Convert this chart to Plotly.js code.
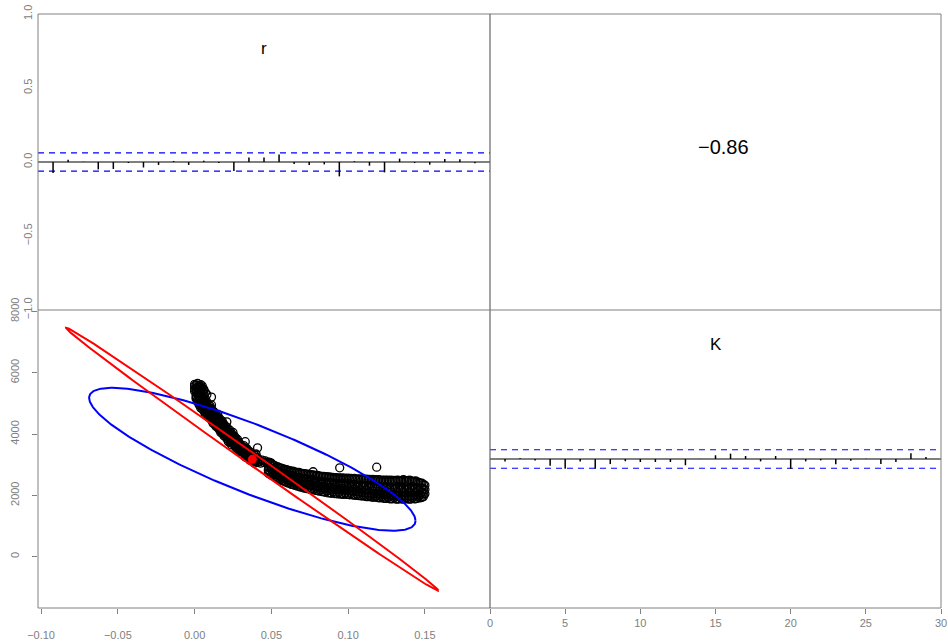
<!DOCTYPE html>
<html>
<head>
<meta charset="utf-8">
<script src="https://cdn.plot.ly/plotly-3.0.1.min.js"></script>
<style>
html,body{margin:0;padding:0;background:#ffffff;}
#chart{width:948px;height:643px;}
</style>
</head>
<body>
<div id="chart"></div>
<script>
// ---------------- data ----------------
const varNames = ["r", "K"];
const corrLabel = "\u22120.86";

const lags = [1,2,3,4,5,6,7,8,9,10,11,12,13,14,15,16,17,18,19,20,21,22,23,24,25,26,27,28,29];
const lagRange = [0, 30];
const acfR = [-0.074,0.016,0.002,-0.050,-0.047,-0.007,-0.037,-0.020,0.007,-0.020,0.009,-0.007,-0.061,0.030,
              0.030,0.050,-0.014,-0.020,-0.016,-0.097,0.005,-0.025,-0.070,0.023,-0.007,-0.018,0.020,0.018,-0.009];
const acfK = [-0.016,0.005,-0.010,-0.045,-0.065,-0.016,-0.065,-0.034,-0.015,-0.020,-0.020,-0.020,-0.042,0.001,
              0.025,0.036,0.020,-0.016,0.020,-0.067,-0.016,-0.009,-0.036,-0.011,0.001,-0.034,-0.020,0.038,0.013];
const ciBound = 0.062;

// posterior samples (r, K)
const blobR = [0.000,0.002,0.004,0.005,0.000,0.002,0.003,0.005,0.006,0.000,0.001,0.003,0.006,0.001,0.002,0.004,0.007,0.001,0.003,0.005,0.008,0.011,
               0.001,0.003,0.004,0.001,0.004,0.002,0.005,0.003,0.000,0.002,0.005,0.006,0.004,0.001];
const blobK = [5620,5650,5610,5570,5570,5540,5510,5490,5460,5470,5430,5400,5420,5360,5320,5300,5350,5260,5230,5260,5290,5205,
               5600,5580,5540,5500,5450,5470,5380,5350,5400,5280,5200,5310,5200,5200];

const steepK = [5150,5125,5100,5075,5050,5025,5000,4975,4950,4925,4900,4875,4850,4825,4800,4775,4750,4725,4700,4675,
                4650,4625,4600,4575,4550,4525,4500,4475,4450,4425,4400,4375,4350,4325,4300,4275,4250,4225,4200,4175,
                4150,4125,4100,4075,4050,4025,4000,3975,3950,3925,3900,3875,3850,3825,3800,3775,3750,3725,3700,3675,
                3650,3625,3600,3575,3550,3525,3500,3475,3450,3425,3400,3375,3350,3325,3300,3275,3250,3225,3200,3175,
                3150,3125,3100,3075,3050];
const steepRByRow = [
  [0.001,0.004,0.007],[0.002,0.0055],[0.003,0.006],[0.0035,0.0065],[0.002,0.005,0.008],
  [0.003,0.006],[0.004,0.007],[0.0045,0.0075],[0.003,0.006,0.009,0.011],[0.004,0.007,0.010],
  [0.005,0.008],[0.0055,0.0085],[0.004,0.007,0.010],[0.005,0.008,0.011],[0.0065,0.0095],
  [0.007,0.010],[0.006,0.009,0.012],[0.0065,0.0095,0.0125],[0.008,0.011],[0.0085,0.0115],
  [0.007,0.010,0.013,0.015],[0.008,0.011,0.014],[0.010,0.013],[0.0105,0.0135],[0.009,0.012,0.015],
  [0.010,0.013,0.016],[0.0115,0.0145],[0.0125,0.0155],[0.011,0.014,0.017],[0.012,0.015,0.018],
  [0.0135,0.0165,0.021],[0.0135,0.0165],[0.012,0.015,0.018],[0.013,0.016,0.019],[0.015,0.018],
  [0.0155,0.0185],[0.014,0.017,0.020],[0.015,0.018,0.021],[0.0165,0.0195],[0.0175,0.0205],
  [0.016,0.019,0.022],[0.017,0.020,0.023],[0.018,0.021],[0.0185,0.0215],[0.017,0.020,0.023,0.025],
  [0.018,0.021,0.024],[0.0195,0.0225],[0.0205,0.0235],[0.019,0.022,0.025],[0.020,0.023,0.026],
  [0.0215,0.0245],[0.0225,0.0255],[0.021,0.024,0.027],[0.022,0.025,0.028],[0.023,0.026],
  [0.0235,0.0265],[0.022,0.025,0.028,0.033],[0.023,0.026,0.029],[0.025,0.028],[0.0255,0.0285],
  [0.024,0.027,0.030],[0.026,0.029,0.032],[0.027,0.030],[0.0285,0.0315],[0.027,0.030,0.033,0.041],
  [0.028,0.031,0.034],[0.0295,0.0325],[0.0305,0.0335],[0.029,0.032,0.035],[0.030,0.033,0.036],
  [0.0315,0.0345],[0.0325,0.0355],[0.031,0.034,0.037,0.040],[0.033,0.036,0.039],[0.034,0.037],
  [0.0345,0.0375],[0.033,0.036,0.040],[0.035,0.038,0.041],[0.0365,0.0395],[0.0375,0.0415],
  [0.036,0.040,0.044],[0.038,0.042,0.046],[0.0395,0.0425],[0.041,0.045,0.049],[0.039,0.043,0.047,0.050]
];

const flatR = [0.048,0.049,0.050,0.051,0.052,0.053,0.054,0.055,0.056,0.057,0.058,0.059,0.060,0.061,0.062,0.063,0.064,0.065,
               0.066,0.067,0.068,0.069,0.070,0.071,0.072,0.073,0.074,0.075,0.076,0.077,0.0772,0.078,0.079,0.080,0.081,0.082,
               0.083,0.084,0.085,0.086,0.087,0.088,0.089,0.090,0.091,0.092,0.093,0.094,0.0945,0.095,0.096,0.097,0.098,0.099,
               0.100,0.101,0.102,0.103,0.104,0.105,0.106,0.107,0.108,0.109,0.110,0.111,0.112,0.113,0.114,0.115,0.116,0.117,
               0.118,0.1186,0.119,0.120,0.121,0.122,0.123,0.124,0.125,0.126,0.127,0.128,0.129,0.130,0.131,0.132,0.133,0.134,
               0.135,0.136,0.137,0.138,0.139,0.140,0.141,0.142,0.143,0.144,0.145,0.146,0.147,0.148,0.149,0.150];
const flatKByCol = [
  [3080,2950,2830,2720],[3020,2900,2780,2690],[3040,2840,2660],[2990,2870,2740,2650],[2980,2850,2730,2610],
  [2920,2800,2680,2590],[2940,2750,2560],[2900,2770,2640,2540],[2900,2760,2640,2510],[2870,2720,2590,2480],
  [2860,2670,2480],[2830,2700,2550,2440],[2840,2690,2570,2430],[2800,2660,2520,2400],[2810,2600,2410],
  [2780,2630,2480,2360],[2790,2640,2500,2360],[2760,2600,2440,2330],[2760,2550,2350],[2740,2580,2420,2300],
  [2750,2590,2450,2300],[2720,2560,2390,2270],[2720,2500,2300],[2700,2540,2370,2240],[2710,2550,2410,2250],
  [2680,2520,2350,2220],[2690,2460,2250],[2670,2500,2330,2200],[2680,2510,2370,2200],[2660,2480,2310,2180],
  [2770],[2660,2420,2200],[2640,2460,2290,2160],[2650,2470,2330,2160],[2630,2450,2270,2140],
  [2630,2390,2170],[2610,2430,2250,2120],[2620,2440,2300,2120],[2600,2420,2240,2100],[2610,2360,2140],
  [2590,2400,2220,2080],[2600,2420,2270,2090],[2580,2390,2210,2070],[2590,2340,2110],[2570,2380,2200,2060],
  [2580,2400,2250,2070],[2560,2370,2190,2050],[2570,2320,2090],[2900],[2550,2360,2180,2040],
  [2570,2390,2230,2050],[2550,2350,2170,2030],[2560,2310,2070],[2540,2340,2160,2030],[2560,2380,2220,2040],
  [2540,2330,2150,2020],[2550,2290,2060],[2530,2320,2140,2010],[2550,2360,2200,2020],[2530,2310,2130,2000],
  [2540,2280,2030],[2520,2300,2120,1990],[2540,2340,2180,1990],[2520,2290,2100,1980],[2530,2260,2000],
  [2510,2280,2090,1970],[2530,2320,2160,1960],[2510,2270,2080,1960],[2520,2240,1980],[2500,2260,2070,1950],
  [2520,2300,2140,1940],[2500,2250,2060,1940],[2510,2220,1960],[2920],[2500,2240,2050,1930],
  [2510,2290,2120,1920],[2490,2230,2040,1920],[2500,2200,1950],[2490,2230,2030,1910],[2500,2280,2110,1900],
  [2490,2220,2020,1900],[2500,2190,1930],[2480,2220,2010,1890],[2500,2270,2100,1890],[2480,2210,2000,1890],
  [2490,2190,1920],[2480,2210,2000,1880],[2500,2270,2090,1880],[2490,2200,1990,1880],[2480,2180,1920],
  [2490,2200,1990,1880],[2510,2260,2090,1880],[2490,2200,1990,1880],[2480,2180,1910],[2480,2200,1990,1880],
  [2500,2260,2080,1880],[2470,2200,1990,1880],[2460,2170,1920],[2460,2200,2000,1890],[2470,2250,2090,1890],
  [2440,2200,2010,1900],[2420,2180,1950],[2400,2210,2030,1920],[2400,2240,2100,1930],[2350,2200,2060,1960],
  [2330,2190,2050]
];

// posterior mean and the two ellipses (half-ranges and correlation)
const meanRK = [0.0376, 3176];
const ellipseHalfR = [0.1063, 0.1213];   // blue, red
const ellipseHalfK = [2331, 4291];
const ellipseRho   = [-0.86, -0.9986];

// axis ticks
const accTicks = [-1, -0.5, 0, 0.5, 1];
const accTickText = ["\u22121.0", "\u22120.5", "0.0", "0.5", "1.0"];
const rTicks = [-0.10, -0.05, 0.00, 0.05, 0.10, 0.15];
const rTickText = ["\u22120.10", "\u22120.05", "0.00", "0.05", "0.10", "0.15"];
const kTicks = [0, 2000, 4000, 6000, 8000];
const lagTicks = [0, 5, 10, 15, 20, 25, 30];

// ---------------- build ----------------
const sampR = [], sampK = [];
blobR.forEach((r, i) => { sampR.push(r); sampK.push(blobK[i]); });
steepK.forEach((k, i) => steepRByRow[i].forEach(r => { sampR.push(r); sampK.push(k); }));
flatR.forEach((r, i) => flatKByCol[i].forEach(k => { sampR.push(r); sampK.push(k); }));

function stems(vals) {
  const x = [], y = [];
  lags.forEach((l, i) => { x.push(l, l, null); y.push(0, vals[i], null); });
  return {x, y};
}
function ellipse(j) {
  const d = Math.acos(ellipseRho[j]);
  const x = [], y = [];
  for (let i = 0; i <= 360; i++) {
    const t = i * Math.PI / 180;
    x.push(meanRK[0] + ellipseHalfR[j] * Math.cos(t));
    y.push(meanRK[1] + ellipseHalfK[j] * Math.cos(t - d));
  }
  return {x, y};
}

const GRAY = '#808080';
const FONT = 'Liberation Sans, Arial, Helvetica, sans-serif';

const sR = stems(acfR), sK = stems(acfK);
const eB = ellipse(0), eRd = ellipse(1);

const traces = [
  // ACF of r (top-left)
  {x: lagRange, y: [0, 0], xaxis: 'x', yaxis: 'y', mode: 'lines', line: {color: 'black', width: 1.2}, hoverinfo: 'skip'},
  {x: [lagRange[0], lagRange[1], null, lagRange[0], lagRange[1]], y: [ciBound, ciBound, null, -ciBound, -ciBound],
   xaxis: 'x', yaxis: 'y', mode: 'lines', line: {color: 'blue', width: 1.2, dash: '6px,5px'}, hoverinfo: 'skip'},
  {x: sR.x, y: sR.y, xaxis: 'x', yaxis: 'y', mode: 'lines', line: {color: 'black', width: 1.5}, connectgaps: false},
  // scatter (bottom-left)
  {x: sampR, y: sampK, xaxis: 'x2', yaxis: 'y2', mode: 'markers',
   marker: {symbol: 'circle-open', size: 8, color: 'black', line: {width: 1.3, color: 'black'}}},
  {x: eB.x, y: eB.y, xaxis: 'x2', yaxis: 'y2', mode: 'lines', line: {color: 'blue', width: 2}},
  {x: eRd.x, y: eRd.y, xaxis: 'x2', yaxis: 'y2', mode: 'lines', line: {color: 'red', width: 2}},
  {x: [meanRK[0]], y: [meanRK[1]], xaxis: 'x2', yaxis: 'y2', mode: 'markers', marker: {color: 'red', size: 9}},
  // ACF of K (bottom-right)
  {x: lagRange, y: [0, 0], xaxis: 'x3', yaxis: 'y3', mode: 'lines', line: {color: 'black', width: 1.2}, hoverinfo: 'skip'},
  {x: [lagRange[0], lagRange[1], null, lagRange[0], lagRange[1]], y: [ciBound, ciBound, null, -ciBound, -ciBound],
   xaxis: 'x3', yaxis: 'y3', mode: 'lines', line: {color: 'blue', width: 1.2, dash: '6px,5px'}, hoverinfo: 'skip'},
  {x: sK.x, y: sK.y, xaxis: 'x3', yaxis: 'y3', mode: 'lines', line: {color: 'black', width: 1.5}, connectgaps: false}
];

const W = 948, H = 643;
const xL = [38 / W, 490 / W], xR = [490 / W, 941 / W];
const yT = [1 - 310 / H, 1 - 14 / H], yB = [1 - 608 / H, 1 - 310 / H];
const tickFont = {family: FONT, size: 11, color: GRAY};

const baseAx = {showgrid: false, zeroline: false, showline: false, ticklabeloverflow: 'allow'};

const layout = {
  width: W, height: H, autosize: false,
  margin: {l: 0, r: 0, t: 0, b: 0, pad: 0},
  paper_bgcolor: 'white', plot_bgcolor: 'white',
  showlegend: false,
  font: {family: FONT},
  xaxis: Object.assign({}, baseAx, {domain: xL, range: lagRange, anchor: 'y', showticklabels: false, ticks: ''}),
  yaxis: Object.assign({}, baseAx, {domain: yT, range: [-1, 1], anchor: 'x', tickmode: 'array', tickvals: accTicks,
         ticktext: accTickText, tickangle: -90, ticks: '', tickfont: tickFont, ticklabelstandoff: 3}),
  xaxis2: Object.assign({}, baseAx, {domain: xL, range: [-0.102, 0.1924], anchor: 'y2', tickmode: 'array', tickvals: rTicks,
          ticktext: rTickText, ticks: 'outside', ticklen: 5, tickcolor: GRAY, tickwidth: 1, tickfont: tickFont, ticklabelstandoff: 12}),
  yaxis2: Object.assign({}, baseAx, {domain: yB, range: [-1673, 8046], anchor: 'x2', tickmode: 'array', tickvals: kTicks,
          ticktext: kTicks.map(String), tickangle: -90, ticks: 'outside', ticklen: 5, tickcolor: GRAY, tickwidth: 1,
          tickfont: tickFont, ticklabelstandoff: 9}),
  xaxis3: Object.assign({}, baseAx, {domain: xR, range: lagRange, anchor: 'y3', tickmode: 'array', tickvals: lagTicks,
          ticktext: lagTicks.map(String), ticks: 'outside', ticklen: 5, tickcolor: GRAY, tickwidth: 1, tickfont: tickFont, ticklabelstandoff: 0}),
  yaxis3: Object.assign({}, baseAx, {domain: yB, range: [-1, 1], anchor: 'x3', showticklabels: false, ticks: ''}),
  shapes: [
    {type: 'rect', xref: 'paper', yref: 'paper', x0: xL[0], x1: xR[1], y0: yB[0], y1: yT[1], line: {color: GRAY, width: 1}},
    {type: 'line', xref: 'paper', yref: 'paper', x0: xL[1], x1: xL[1], y0: yB[0], y1: yT[1], line: {color: '#666666', width: 1.2}},
    {type: 'line', xref: 'paper', yref: 'paper', x0: xL[0], x1: xR[1], y0: yB[1], y1: yB[1], line: {color: '#808080', width: 1.2}}
  ],
  annotations: [
    {text: varNames[0], xref: 'x', yref: 'y', x: 15, y: 0.77, xanchor: 'center', yanchor: 'middle', showarrow: false,
     font: {family: FONT, size: 17, color: 'black'}},
    {text: varNames[1], xref: 'x3', yref: 'y3', x: 15, y: 0.77, xanchor: 'center', yanchor: 'middle', showarrow: false,
     font: {family: FONT, size: 17, color: 'black'}},
    {text: corrLabel, xref: 'paper', yref: 'paper', x: 723 / W, y: 1 - 147 / H, xanchor: 'center', yanchor: 'middle',
     showarrow: false, font: {family: FONT, size: 20, color: 'black'}}
  ]
};

Plotly.newPlot('chart', traces, layout, {staticPlot: true, displayModeBar: false});
</script>
</body>
</html>
